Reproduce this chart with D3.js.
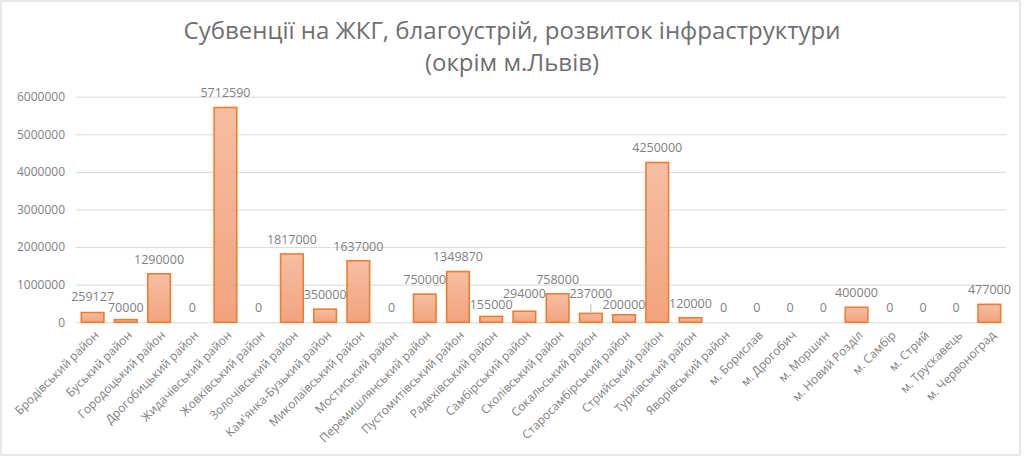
<!DOCTYPE html>
<html>
<head>
<meta charset="utf-8">
<script src="https://cdn.jsdelivr.net/npm/d3@7"></script>
<style>
  html, body { margin: 0; padding: 0; background: #fff; }
  svg { display: block; }
  text { font-family: "Open Sans", "Noto Sans", sans-serif; }
</style>
</head>
<body>
<svg id="chart" width="1024" height="457"></svg>
<script>
const titleLines = ["Субвенції на ЖКГ, благоустрій, розвиток інфраструктури", "(окрім м.Львів)"];

const categories = [
  "Бродівський район", "Буський район", "Городоцький район", "Дрогобицький район",
  "Жидачівський район", "Жовківський район", "Золочівський район", "Кам'янка-Бузький район",
  "Миколаївський район", "Мостиський район", "Перемишлянський район", "Пустомитівський район",
  "Радехівський район", "Самбірський район", "Сколівський район", "Сокальський район",
  "Старосамбірський район", "Стрийський район", "Турківський район", "Яворівський район",
  "м. Борислав", "м. Дрогобич", "м. Моршин", "м. Новий Розділ",
  "м. Самбір", "м. Стрий", "м. Трускавець", "м. Червоноград"
];

const values = [
  259127, 70000, 1290000, 0,
  5712590, 0, 1817000, 350000,
  1637000, 0, 750000, 1349870,
  155000, 294000, 758000, 237000,
  200000, 4250000, 120000, 0,
  0, 0, 0, 400000,
  0, 0, 0, 477000
];

const yTicks = [0, 1000000, 2000000, 3000000, 4000000, 5000000, 6000000];

const data = categories.map((c, i) => ({ cat: c, val: values[i], i }));

const svg = d3.select("#chart");
const W = 1024, H = 457;

// outer border
svg.append("rect").attr("x", 1).attr("y", 1).attr("width", 1019).attr("height", 454)
  .attr("fill", "#fff").attr("stroke", "#d9d9d9").attr("stroke-width", 1.2);

// gradient
const defs = svg.append("defs");
const grad = defs.append("linearGradient").attr("id", "barGrad")
  .attr("x1", 0).attr("y1", 0).attr("x2", 0).attr("y2", 1);
grad.append("stop").attr("offset", "0%").attr("stop-color", "#f6bea2");
grad.append("stop").attr("offset", "100%").attr("stop-color", "#f2a37e");

const x = d3.scaleBand().domain(categories).range([76, 1006]).paddingInner(0.32).paddingOuter(0.16);
const y = d3.scaleLinear().domain([0, 6000000]).range([322.3, 96.7]);

// title
const titleG = svg.append("g").attr("fill", "#6f6f6f");
const t1 = titleG.append("text").attr("x", 512).attr("y", 38.5).attr("text-anchor", "middle")
  .style("font-size", "22px").text(titleLines[0]);
// fit width to ~657px
const w1 = t1.node().getComputedTextLength();
const fs = 22 * 657 / w1;
t1.style("font-size", fs + "px");
titleG.append("text").attr("x", 512).attr("y", 70.5).attr("text-anchor", "middle")
  .style("font-size", fs + "px").text(titleLines[1]);

// gridlines
const yAxis = d3.axisLeft(y).tickValues(yTicks).tickSize(-(1006 - 76)).tickFormat(d3.format("d"));
const gy = svg.append("g").attr("transform", "translate(76,0)").call(yAxis);
gy.select(".domain").remove();
gy.selectAll(".tick line").attr("stroke", "#d9d9d9").attr("stroke-width", 1);
gy.selectAll(".tick text").attr("x", -11).attr("fill", "#7f7f7f")
  .style("font-size", "12px").style("font-family", "'Open Sans', sans-serif");

// bars
svg.append("g").selectAll("rect").data(data.filter(d => d.val > 0)).join("rect")
  .attr("x", d => x(d.cat))
  .attr("y", d => y(d.val))
  .attr("width", x.bandwidth())
  .attr("height", d => y(0) - y(d.val))
  .attr("fill", "url(#barGrad)")
  .attr("stroke", "#ed7d31")
  .attr("stroke-width", 1.6);

// data labels with simple collision handling
const labelG = svg.append("g");
const labels = labelG.selectAll("text").data(data).join("text")
  .attr("text-anchor", "middle")
  .attr("dominant-baseline", "central")
  .attr("fill", "#7f7f7f")
  .style("font-size", "12.5px")
  .text(d => d3.format("d")(d.val));

const L = data.map((d, i) => ({
  cx: x(d.cat) + x.bandwidth() / 2,
  cy: y(d.val) - 14.6,
  cy0: y(d.val) - 14.6,
  w: labels.nodes()[i].getComputedTextLength()
}));
const minGap = 11;
for (let i = 0; i < L.length - 1; i++) {
  const a = L[i], b = L[i + 1];
  const hOverlap = Math.abs(a.cx - b.cx) < (a.w + b.w) / 2;
  const dy = b.cy - a.cy;
  if (hOverlap && Math.abs(dy) < minGap) {
    const need = (minGap - Math.abs(dy)) / 2;
    if (dy >= 0) { a.cy -= need; b.cy += need; }
    else { a.cy += need; b.cy -= need; }
  }
}
labels.attr("x", (d, i) => L[i].cx).attr("y", (d, i) => L[i].cy);

// leader lines for labels pushed away noticeably
labelG.selectAll("line").data(data.filter((d, i) => L[i].cy0 - L[i].cy > 4)).join("line")
  .attr("x1", d => L[d.i].cx).attr("x2", d => L[d.i].cx)
  .attr("y1", d => L[d.i].cy + 10).attr("y2", d => y(d.val) - 1)
  .attr("stroke", "#a6a6a6").attr("stroke-width", 0.8);

// category axis labels
const xg = svg.append("g");
xg.selectAll("text").data(categories).join("text")
  .attr("transform", d => `translate(${x(d) + x.bandwidth() / 2 + 4},${333}) rotate(-45)`)
  .attr("text-anchor", "end")
  .attr("dy", "0.35em")
  .attr("fill", "#7f7f7f")
  .style("font-size", "12px")
  .text(d => d);
</script>
</body>
</html>
